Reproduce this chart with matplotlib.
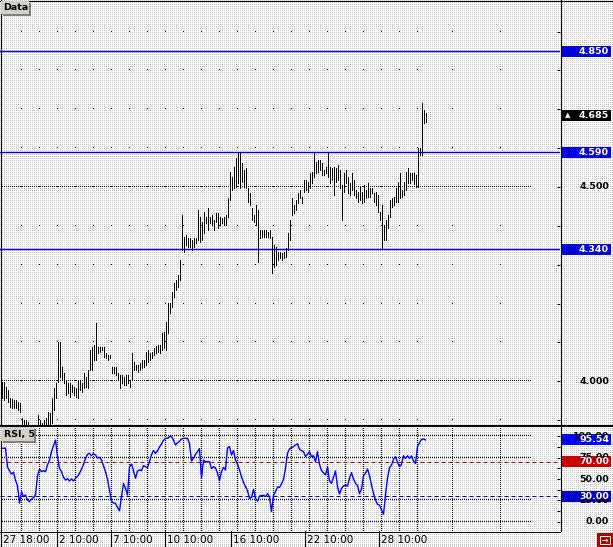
import numpy as np
import matplotlib
matplotlib.use("Agg")
import matplotlib.pyplot as plt
from matplotlib.patches import Rectangle
from matplotlib.lines import Line2D
from matplotlib.transforms import blended_transform_factory as blend

# ---------------- data ----------------
highs = [
    3.998, 3.998, 3.985, 3.977, 3.957, 3.954, 3.952, 3.952, 3.947, 3.944,
    3.905, 3.900, 3.900, 3.895, 3.880, 3.875, 3.880, 3.885, 3.913, 3.900,
    3.893, 3.900, 3.905, 3.921, 3.918, 3.957, 3.983, 3.995, 4.101, 4.101,
    4.037, 4.021, 4.003, 3.995, 3.995, 3.990, 3.985, 3.983, 4.003, 4.003,
    3.995, 4.021, 4.011, 4.029, 4.080, 4.088, 4.093, 4.150, 4.088, 4.088,
    4.088, 4.088, 4.073, 4.068, 4.068, 4.037, 4.037, 4.037, 4.021, 4.016,
    4.016, 4.011, 4.016, 4.016, 4.003, 4.073, 4.050, 4.042, 4.042, 4.047,
    4.055, 4.055, 4.075, 4.080, 4.073, 4.075, 4.086, 4.091, 4.093, 4.093,
    4.124, 4.127, 4.153, 4.201, 4.201, 4.230, 4.253, 4.261, 4.273, 4.312,
    4.428, 4.371, 4.376, 4.369, 4.369, 4.364, 4.369, 4.369, 4.441, 4.423,
    4.410, 4.436, 4.423, 4.446, 4.423, 4.428, 4.415, 4.433, 4.433, 4.423,
    4.420, 4.423, 4.428, 4.472, 4.539, 4.526, 4.551, 4.575, 4.590, 4.590,
    4.562, 4.544, 4.549, 4.497, 4.485, 4.446, 4.428, 4.454, 4.441, 4.389,
    4.389, 4.389, 4.389, 4.384, 4.389, 4.371, 4.351, 4.346, 4.333, 4.333,
    4.330, 4.333, 4.343, 4.382, 4.415, 4.472, 4.454, 4.467, 4.485, 4.492,
    4.474, 4.518, 4.518, 4.513, 4.536, 4.539, 4.590, 4.564, 4.569, 4.569,
    4.562, 4.544, 4.551, 4.590, 4.551, 4.549, 4.551, 4.549, 4.557, 4.544,
    4.505, 4.536, 4.544, 4.526, 4.510, 4.536, 4.518, 4.492, 4.487, 4.500,
    4.487, 4.505, 4.492, 4.510, 4.497, 4.497, 4.485, 4.487, 4.479, 4.436,
    4.454, 4.402, 4.415, 4.428, 4.467, 4.472, 4.474, 4.497, 4.513, 4.536,
    4.492, 4.513, 4.539, 4.549, 4.536, 4.536, 4.536, 4.531, 4.600, 4.600,
    4.716, 4.698, 4.690,
]
lows = [
    3.957, 3.952, 3.957, 3.947, 3.934, 3.931, 3.931, 3.931, 3.926, 3.921,
    3.880, 3.875, 3.875, 3.869, 3.849, 3.844, 3.849, 3.854, 3.880, 3.875,
    3.869, 3.875, 3.875, 3.880, 3.882, 3.893, 3.926, 3.957, 3.998, 4.011,
    4.003, 3.995, 3.965, 3.970, 3.959, 3.972, 3.965, 3.959, 3.957, 3.977,
    3.972, 3.983, 3.985, 3.983, 4.029, 4.029, 4.055, 4.055, 4.073, 4.075,
    4.080, 4.062, 4.060, 4.055, 4.060, 4.021, 4.021, 4.016, 4.003, 3.983,
    3.995, 3.990, 3.990, 3.995, 3.985, 4.003, 4.029, 4.029, 4.024, 4.029,
    4.034, 4.037, 4.042, 4.050, 4.055, 4.060, 4.068, 4.073, 4.075, 4.073,
    4.080, 4.086, 4.080, 4.124, 4.176, 4.191, 4.217, 4.235, 4.243, 4.261,
    4.338, 4.333, 4.351, 4.346, 4.346, 4.338, 4.346, 4.356, 4.364, 4.358,
    4.364, 4.382, 4.407, 4.389, 4.407, 4.402, 4.389, 4.410, 4.394, 4.402,
    4.407, 4.402, 4.402, 4.423, 4.467, 4.492, 4.497, 4.500, 4.510, 4.497,
    4.513, 4.500, 4.497, 4.461, 4.454, 4.415, 4.410, 4.402, 4.307, 4.369,
    4.371, 4.371, 4.371, 4.371, 4.369, 4.279, 4.294, 4.299, 4.312, 4.317,
    4.312, 4.317, 4.320, 4.338, 4.364, 4.428, 4.433, 4.441, 4.459, 4.472,
    4.459, 4.487, 4.492, 4.487, 4.497, 4.510, 4.526, 4.536, 4.539, 4.544,
    4.531, 4.531, 4.536, 4.526, 4.510, 4.518, 4.479, 4.513, 4.518, 4.497,
    4.415, 4.487, 4.510, 4.485, 4.479, 4.492, 4.479, 4.472, 4.461, 4.467,
    4.459, 4.461, 4.472, 4.474, 4.474, 4.485, 4.461, 4.454, 4.436, 4.415,
    4.343, 4.364, 4.364, 4.394, 4.423, 4.449, 4.454, 4.461, 4.461, 4.472,
    4.474, 4.479, 4.492, 4.510, 4.510, 4.518, 4.508, 4.500, 4.500, 4.582,
    4.582, 4.665, 4.667,
]
rsi = [
    85.7, 85.7, 86.0, 64.0, 59.5, 55.8, 57.8, 48.8, 42.0, 22.0,
    35.0, 29.5, 31.4, 25.6, 23.6, 26.5, 28.5, 31.4, 53.5, 61.5,
    58.5, 59.7, 58.5, 66.3, 72.0, 81.8, 88.8, 95.3, 76.0, 62.4,
    58.5, 52.0, 48.8, 50.4, 47.7, 50.0, 47.7, 50.8, 53.0, 56.6,
    61.3, 67.0, 74.0, 78.7, 79.8, 77.1, 79.4, 77.9, 74.4, 75.2,
    72.1, 65.5, 58.5, 49.6, 37.2, 24.4, 22.0, 21.7, 17.0, 13.0,
    29.5, 45.0, 39.0, 31.4, 64.3, 67.4, 59.7, 50.8, 59.3, 60.5,
    59.7, 65.5, 64.3, 63.2, 70.2, 78.3, 83.0, 79.8, 82.6, 87.2,
    90.7, 94.9, 97.3, 97.3, 99.2, 99.5, 95.3, 89.5, 92.2, 93.8,
    96.5, 97.3, 97.3, 97.3, 91.5, 71.0, 74.0, 78.7, 81.8, 85.3,
    51.0, 72.0, 70.2, 70.2, 70.0, 62.0, 64.3, 63.0, 57.0, 48.0,
    58.5, 63.6, 60.5, 86.4, 87.6, 77.9, 83.0, 72.1, 67.0, 60.5,
    52.7, 46.0, 41.1, 36.4, 27.5, 28.7, 38.0, 27.5, 24.4, 30.2,
    30.6, 31.0, 29.5, 33.0, 29.5, 12.0, 30.6, 35.3, 40.7, 40.3,
    44.2, 49.6, 62.4, 79.8, 84.9, 86.8, 87.6, 89.5, 91.0, 84.5,
    83.0, 81.8, 76.0, 78.7, 81.8, 76.0, 77.1, 70.2, 81.8, 67.0,
    60.0, 57.0, 54.7, 64.0, 47.7, 45.0, 52.0, 59.3, 41.1, 32.5,
    39.1, 41.9, 43.0, 41.9, 50.8, 57.4, 50.0, 45.0, 42.6, 33.0,
    38.0, 53.9, 56.6, 61.6, 53.9, 43.0, 33.3, 25.6, 20.5, 19.8,
    14.0, 8.9, 31.4, 50.8, 63.2, 66.0, 72.9, 76.0, 69.8, 64.3,
    67.0, 77.0, 74.0, 77.0, 74.0, 77.0, 71.0, 68.0, 87.6, 92.3,
    96.0, 96.5, 95.54,
]
tick_labels = ["27 18:00", "2 10:00", "7 10:00", "10 10:00",
               "16 10:00", "22 10:00", "28 10:00"]
tick_bars = [0, 28, 55, 82, 115, 152, 189]
line_levels = [4.850, 4.590, 4.340]
last_price = 4.685
price_scale_labels = [4.500, 4.000]
rsi_last = 95.54
rsi_levels = [70.0, 30.0]
rsi_scale_labels = [100.0, 75.0, 50.0, 25.0, 0.0]

# ---------------- figure ----------------
W, H = 613, 547
fig = plt.figure(figsize=(W / 100, H / 100), dpi=100)

bg = np.full((H, W, 3), 255, np.uint8)
bg[::2, ::2] = 196
fig.figimage(bg, 0, 0, zorder=-10)


def frac(x0, y0, x1, y1):
    return [x0 / W, 1 - y1 / H, (x1 - x0) / W, (y1 - y0) / H]


PX = 0.72  # one pixel in points
LINE_BLUE = "#0000e6"
n = len(highs)
idx = np.arange(n)
XL = (-0.75, 279.25)
dot_cols = np.arange(0, 265)          # every other pixel column up to x~530

# grid columns (every 9 bars, plus two in the empty area)
grid_bars = np.r_[9.5 + 9 * np.arange(23), 225.25, 249.25]


def dotted_h(a, y):
    a.plot(dot_cols, np.full(dot_cols.size, y), ",", color="black")


# ---------- price panel ----------
ax = fig.add_axes(frac(0, 0, 560, 425))
ax.set_facecolor("none")
ax.set_xlim(*XL)
ax.set_ylim(3.8874, 4.9813)
for s in ax.spines.values():
    s.set_visible(False)
ax.set_xticks([])
ax.yaxis.tick_right()
ax.set_yticks(np.round(np.arange(3.9, 5.0, 0.1), 1))
ax.tick_params(axis="y", direction="in", length=3 * PX, width=PX, labelright=False,
               color="black")

gx, gy = np.meshgrid(grid_bars, np.arange(3.9, 5.0, 0.1))
ax.plot(gx.ravel(), gy.ravel(), ",", color="black")
for lv in price_scale_labels:
    dotted_h(ax, lv)
for lv in line_levels:
    ax.axhline(lv, color=LINE_BLUE, lw=1.0)
ax.vlines(idx, lows, highs, colors="black", lw=PX, antialiased=False)

# ---------- RSI panel ----------
ax2 = fig.add_axes(frac(0, 427, 560, 531))
ax2.set_facecolor("none")
ax2.set_xlim(*XL)
ax2.set_ylim(-10.47, 110.47)
for s in ax2.spines.values():
    s.set_visible(False)
ax2.set_xticks([])
ax2.yaxis.tick_right()
ax2.set_yticks(np.arange(0, 101, 12.5))
ax2.tick_params(axis="y", direction="in", length=3 * PX, width=PX, labelright=False)
for lv in [100, 75, 25, 0]:
    dotted_h(ax2, lv)
dot_rows = np.arange(-10.0, 110.5, 2 / 0.86)
vx, vy = np.meshgrid(grid_bars, dot_rows)
ax2.plot(vx.ravel(), vy.ravel(), ",", color="black")
ax2.axhline(rsi_levels[0], color="#b00000", lw=PX, ls=(0, (4, 3)))
ax2.axhline(rsi_levels[1], color="#0000c8", lw=PX, ls=(0, (4, 3)))
ax2.plot(idx, rsi, color="#0000ff", lw=1.0)

# ---------- time strip ----------
ax3 = fig.add_axes(frac(0, 531, 560, 547))
ax3.set_facecolor("none")
ax3.set_xlim(*XL)
ax3.set_ylim(0, 1)
ax3.axis("off")
for tb, lab in zip(tick_bars, tick_labels):
    ax3.vlines(tb - 0.5, 0, 1, color="black", lw=PX, antialiased=False)
    ax3.annotate(lab, (tb - 0.5, 0.45), xytext=(1.8, 0), textcoords="offset points",
                 ha="left", va="center", fontsize=7.5, color="black")


# ---------- right scale ----------
def scale_label(a, val, text, axis_h_px, fc=None, tc="black", mark=None):
    trans = blend(a.transAxes, a.transData)
    y0, y1 = a.get_ylim()
    if fc is not None:
        h = 11 * (y1 - y0) / axis_h_px
        a.add_patch(Rectangle((561 / 560, val - h / 2), 50 / 560, h, transform=trans,
                              facecolor=fc, edgecolor="none", clip_on=False, zorder=5))
    a.text(609 / 560, val, text, transform=trans, ha="right", va="center",
           fontsize=6.8, fontweight="bold", color=tc, clip_on=False, zorder=6)
    if mark:
        a.text(565 / 560, val, mark, transform=trans, ha="left", va="center",
               fontsize=5, color="white", clip_on=False, zorder=6)


for lv in price_scale_labels:
    scale_label(ax, lv, f"{lv:.3f}", 425)
for lv in line_levels:
    scale_label(ax, lv, f"{lv:.3f}", 425, fc="#0000e0", tc="white")
scale_label(ax, last_price, f"{last_price:.3f}", 425, fc="black", tc="white", mark="▲")

for lv in rsi_scale_labels:
    scale_label(ax2, lv, f"{lv:.2f}", 104)
scale_label(ax2, rsi_levels[0], f"{rsi_levels[0]:.2f}", 104, fc="#c80000", tc="white")
scale_label(ax2, rsi_levels[1], f"{rsi_levels[1]:.2f}", 104, fc="#0000c8", tc="white")
scale_label(ax2, rsi_last, f"{rsi_last:.2f}", 104, fc="#0000ff", tc="white")


# ---------- frame lines & widgets (figure pixel coords) ----------
def fline(x0, y0, x1, y1, lw=PX, color="black"):
    fig.add_artist(Line2D([x0 / W, x1 / W], [1 - y0 / H, 1 - y1 / H],
                          transform=fig.transFigure, lw=lw, color=color,
                          antialiased=False, zorder=10))


def frect(x0, y0, x1, y1, fc, ec="none", lw=PX):
    fig.add_artist(Rectangle((x0 / W, 1 - y1 / H), (x1 - x0) / W, (y1 - y0) / H,
                             transform=fig.transFigure, facecolor=fc, edgecolor=ec,
                             lw=lw, zorder=11))


fline(0, 0.5, W, 0.5)
fline(0.5, 0, 0.5, 547)
fline(0, 425.5, W, 425.5, lw=2 * PX)
fline(560.5, 0, 560.5, 531)
fline(0, 531.5, 560, 531.5)

# "Data" and "RSI, 5" captions
for (x0, y0, x1, y1, txt) in [(1, 1, 29, 14, "Data"), (1, 427, 34, 441, "RSI, 5")]:
    frect(x0 + 2, y0 + 2, x1 + 2, y1 + 2, "#808080")
    frect(x0, y0, x1, y1, "#d4d0c8")
    fig.text((x0 + 2.5) / W, 1 - ((y0 + y1) / 2 + 0.5) / H, txt, ha="left", va="center",
             fontsize=6.8, fontweight="bold", color="black", zorder=12)

# bottom-right button
frect(597, 533, 613, 547, "#b00000")
frect(600, 536, 610, 544, "none", ec="white", lw=PX)
fig.text(605 / W, 1 - 540 / H, "→", ha="center", va="center", fontsize=5.5,
         color="white", fontweight="bold", zorder=12)

fig.savefig("out.png", dpi=100)
